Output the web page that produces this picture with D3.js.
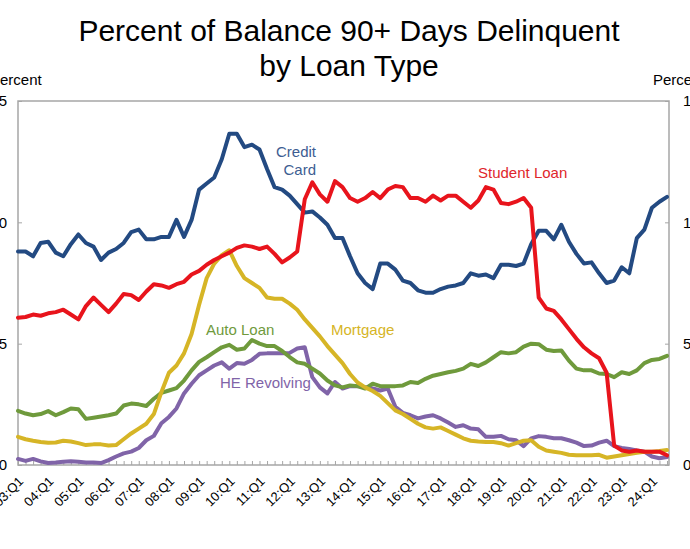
<!DOCTYPE html>
<html><head><meta charset="utf-8">
<script src="https://cdn.jsdelivr.net/npm/d3@7"></script>
<style>body{margin:0;background:#fff}svg{display:block;font-family:"Liberation Sans",Arial,Helvetica,sans-serif}</style>
</head><body><svg id="c" width="690" height="549"></svg>
<script>
const quarters = [
"03:Q1","03:Q2","03:Q3","03:Q4","04:Q1","04:Q2","04:Q3","04:Q4","05:Q1","05:Q2","05:Q3","05:Q4",
"06:Q1","06:Q2","06:Q3","06:Q4","07:Q1","07:Q2","07:Q3","07:Q4","08:Q1","08:Q2","08:Q3","08:Q4",
"09:Q1","09:Q2","09:Q3","09:Q4","10:Q1","10:Q2","10:Q3","10:Q4","11:Q1","11:Q2","11:Q3","11:Q4",
"12:Q1","12:Q2","12:Q3","12:Q4","13:Q1","13:Q2","13:Q3","13:Q4","14:Q1","14:Q2","14:Q3","14:Q4",
"15:Q1","15:Q2","15:Q3","15:Q4","16:Q1","16:Q2","16:Q3","16:Q4","17:Q1","17:Q2","17:Q3","17:Q4",
"18:Q1","18:Q2","18:Q3","18:Q4","19:Q1","19:Q2","19:Q3","19:Q4","20:Q1","20:Q2","20:Q3","20:Q4",
"21:Q1","21:Q2","21:Q3","21:Q4","22:Q1","22:Q2","22:Q3","22:Q4","23:Q1","23:Q2","23:Q3","23:Q4",
"24:Q1","24:Q2","24:Q3"];
const tickLabels = ["03:Q1","04:Q1","05:Q1","06:Q1","07:Q1","08:Q1","09:Q1","10:Q1","11:Q1","12:Q1","13:Q1",
"14:Q1","15:Q1","16:Q1","17:Q1","18:Q1","19:Q1","20:Q1","21:Q1","22:Q1","23:Q1","24:Q1"];
const yTicks = [0,5,10,15];

const creditCard = [8.8,8.8,8.6,9.15,9.2,8.75,8.6,9.1,9.5,9.15,9.0,8.45,8.75,8.9,9.15,9.6,9.7,9.3,9.3,9.4,
9.4,10.1,9.4,10.1,11.35,11.6,11.85,12.6,13.65,13.65,13.1,13.2,13.0,12.2,11.45,11.35,11.1,10.75,10.4,10.45,
10.2,9.9,9.35,9.35,8.6,7.9,7.5,7.25,8.3,8.3,8.05,7.6,7.5,7.2,7.1,7.1,7.25,7.35,7.4,7.5,
7.9,7.8,7.85,7.7,8.25,8.25,8.2,8.3,9.1,9.65,9.65,9.3,9.9,9.2,8.7,8.3,8.35,7.9,7.5,7.6,
8.15,7.9,9.35,9.7,10.6,10.85,11.05];
const studentLoan = [6.07,6.1,6.2,6.15,6.25,6.3,6.4,6.2,6.0,6.55,6.9,6.6,6.3,6.65,7.05,7.0,6.8,7.15,7.45,7.4,
7.3,7.45,7.55,7.85,8.0,8.25,8.45,8.6,8.75,8.95,9.05,9.0,8.9,9.0,8.7,8.35,8.55,8.8,10.95,11.65,
11.15,10.85,11.7,11.45,11.0,10.85,11.0,11.25,11.0,11.35,11.5,11.45,11.0,11.0,10.85,11.1,10.9,11.1,11.1,10.85,
10.6,10.9,11.45,11.35,10.8,10.75,10.85,11.0,10.6,6.9,6.45,6.35,6.0,5.6,5.2,4.85,4.6,4.4,3.8,0.8,
0.6,0.55,0.6,0.55,0.55,0.55,0.4];
const mortgage = [1.16,1.06,1.0,0.95,0.92,0.93,1.0,0.97,0.9,0.82,0.85,0.85,0.8,0.82,1.06,1.3,1.5,1.7,2.1,3.0,
3.8,4.1,4.6,5.4,6.6,7.7,8.3,8.65,8.85,8.2,7.7,7.5,7.3,6.9,6.85,6.85,6.65,6.4,6.0,5.65,
5.3,4.9,4.55,4.2,3.75,3.4,3.2,3.05,2.85,2.55,2.25,2.1,1.9,1.7,1.55,1.5,1.55,1.4,1.25,1.1,
1.0,0.97,0.95,0.95,0.9,0.8,0.9,1.0,1.02,0.75,0.6,0.55,0.5,0.42,0.4,0.4,0.4,0.42,0.3,0.35,
0.4,0.45,0.5,0.55,0.55,0.58,0.62];
const autoLoan = [2.23,2.12,2.05,2.1,2.22,2.05,2.18,2.33,2.3,1.9,1.95,2.0,2.05,2.12,2.45,2.53,2.5,2.43,2.73,2.97,
3.07,3.17,3.48,3.9,4.25,4.44,4.65,4.85,4.95,4.75,4.8,5.15,5.0,4.9,4.9,4.7,4.45,4.23,4.17,3.97,
3.77,3.48,3.28,3.2,3.28,3.25,3.15,3.35,3.25,3.25,3.25,3.28,3.42,3.38,3.55,3.68,3.75,3.82,3.88,3.97,
4.17,4.08,4.23,4.44,4.65,4.6,4.65,4.88,5.0,4.98,4.75,4.7,4.72,4.3,3.97,3.9,3.9,3.77,3.75,3.62,
3.82,3.75,3.9,4.2,4.33,4.37,4.5];
const heRevolving = [0.25,0.17,0.25,0.15,0.08,0.1,0.13,0.15,0.13,0.1,0.1,0.08,0.2,0.35,0.48,0.55,0.7,1.02,1.2,1.72,
1.98,2.33,2.95,3.35,3.7,3.9,4.1,4.23,3.97,4.2,4.17,4.33,4.58,4.6,4.6,4.6,4.62,4.8,4.85,3.62,
3.2,2.95,3.42,3.15,3.25,3.25,3.2,3.15,3.07,3.15,2.4,2.15,2.05,1.92,2.0,2.05,1.92,1.75,1.57,1.64,
1.5,1.47,1.16,1.16,1.2,1.06,1.02,0.78,1.1,1.19,1.16,1.1,1.1,1.02,0.92,0.78,0.8,0.92,1.0,0.78,
0.7,0.66,0.6,0.55,0.35,0.28,0.33];

const seriesNames = ["HE Revolving","Auto Loan","Mortgage","Credit Card","Student Loan"];
const seriesValues = [heRevolving, autoLoan, mortgage, creditCard, studentLoan];
const seriesColors = ["#8064a8","#6f9a3c","#d6b526","#234a82","#e8141c"];

const svg = d3.select("#c");
const L = 18, R = 669, T = 101, B = 465;
const x = d3.scalePoint().domain(quarters).range([L, 667]);
const y = d3.scaleLinear().domain([0, 15]).range([B, T]);

// title
svg.append("text").attr("x", 349).attr("y", 41).attr("text-anchor", "middle")
  .attr("font-size", 30).attr("fill", "#000").text("Percent of Balance 90+ Days Delinquent");
svg.append("text").attr("x", 349).attr("y", 76).attr("text-anchor", "middle")
  .attr("font-size", 30).attr("fill", "#000").text("by Loan Type");

// axis titles
svg.append("text").attr("x", -10).attr("y", 85).attr("font-size", 15).text("Percent");
svg.append("text").attr("x", 653).attr("y", 85).attr("font-size", 15).text("Percent");

// frame
svg.append("rect").attr("x", L).attr("y", T).attr("width", R - L).attr("height", B - T)
  .attr("fill", "none").attr("stroke", "#a6a6a6").attr("stroke-width", 1.5);

// bottom ticks
const xa = svg.append("g").attr("transform", `translate(0,${B})`)
  .call(d3.axisBottom(x).tickValues(quarters).tickSize(-4).tickFormat(""));
xa.select(".domain").remove();
xa.selectAll("line").attr("stroke", "#a6a6a6");

// x labels
svg.append("g").selectAll("text").data(tickLabels).join("text")
  .attr("transform", d => `translate(${x(d) + 3},${B + 14}) rotate(-45)`)
  .attr("text-anchor", "end").attr("dy", "0.35em").attr("font-size", 13).attr("fill", "#000")
  .text(d => d);

// y axes
const yl = svg.append("g").attr("transform", `translate(${L},0)`)
  .call(d3.axisLeft(y).tickValues(yTicks).tickSize(-4).tickPadding(11).tickFormat(d3.format("d")));
const yr = svg.append("g").attr("transform", `translate(${R},0)`)
  .call(d3.axisRight(y).tickValues(yTicks).tickSize(-4).tickPadding(14).tickFormat(d3.format("d")));
[yl, yr].forEach(g => {
  g.select(".domain").remove();
  g.selectAll("line").attr("stroke", "#a6a6a6");
  g.selectAll("text").attr("font-size", 15).attr("fill", "#000")
    .attr("font-family", '"Liberation Sans",Arial,sans-serif');
});

// lines
const line = d3.line().x((d, i) => x(quarters[i])).y(d => y(d));
seriesValues.forEach((vals, k) => {
  svg.append("path").datum(vals).attr("d", line).attr("fill", "none")
    .attr("stroke", seriesColors[k]).attr("stroke-width", 4)
    .attr("stroke-linejoin", "round").attr("stroke-linecap", "round");
});

// series labels
const lab = (txt, xx, yy, col, anchor) => svg.append("text").attr("x", xx).attr("y", yy)
  .attr("font-size", 15).attr("fill", col).attr("text-anchor", anchor || "start").text(txt);
lab("Credit", 316, 157, "#3d5d92", "end");
lab("Card", 316, 175, "#3d5d92", "end");
lab("Student Loan", 478, 178, "#e0262b");
lab("Auto Loan", 206, 335, "#6f9a3c");
lab("Mortgage", 331, 335, "#d6b526");
lab("HE Revolving", 220, 388, "#8064a8");
</script></body></html>
